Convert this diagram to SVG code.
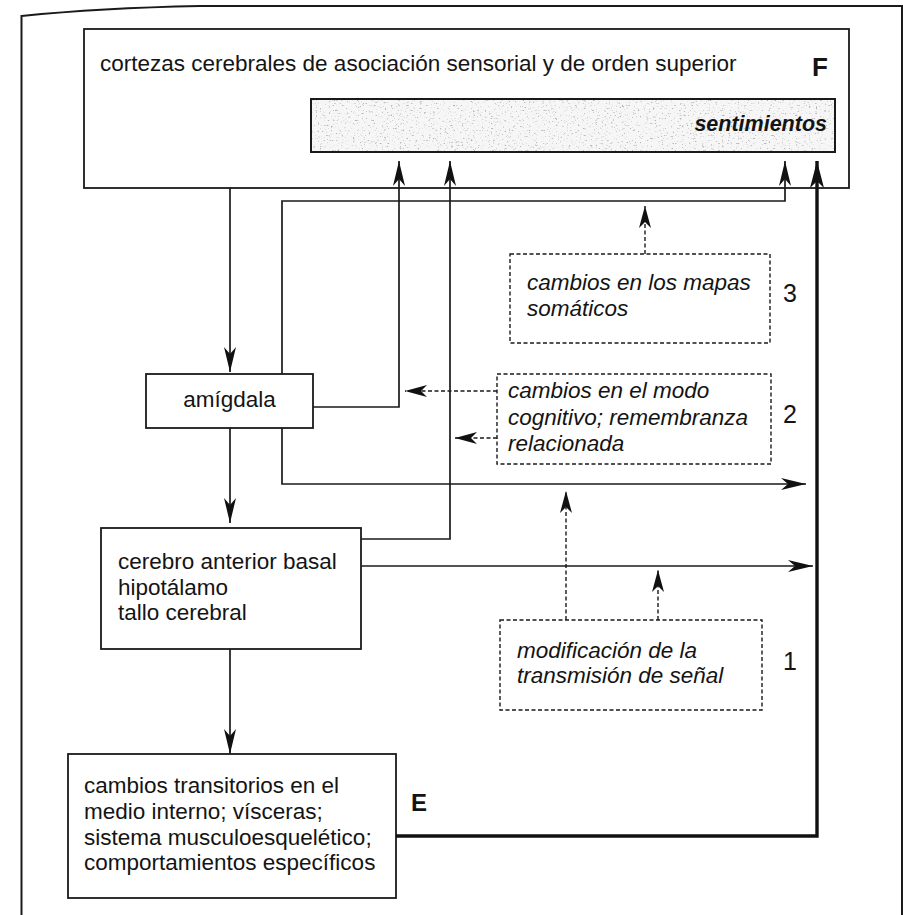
<svg xmlns="http://www.w3.org/2000/svg" width="903" height="915" viewBox="0 0 903 915">
<style>
  .box { fill: #fff; stroke: #1a1a1a; stroke-width: 1.8; }
  .dbox { fill: none; stroke: #1a1a1a; stroke-width: 1.4; stroke-dasharray: 4 2.5; }
  .t { font-family: "Liberation Sans", Arial, sans-serif; font-size: 22.5px; fill: #141414; }
  .ti { font-family: "Liberation Sans", Arial, sans-serif; font-size: 22.5px; font-style: italic; fill: #141414; }
  .num { font-family: "Liberation Sans", Arial, sans-serif; font-size: 25px; fill: #141414; }
  .lbl { font-family: "Liberation Sans", Arial, sans-serif; font-weight: bold; fill: #141414; }
  .ln { fill: none; stroke: #1a1a1a; stroke-width: 1.7; }
  .dl { fill: none; stroke: #1a1a1a; stroke-width: 1.4; stroke-dasharray: 4 2.5; }
  .thick { fill: none; stroke: #111; stroke-width: 3.4; }
</style>
<defs>
  <marker id="ah" viewBox="-27 -7 28 14" refX="0" refY="0" markerWidth="28" markerHeight="14" markerUnits="userSpaceOnUse" orient="auto">
    <path d="M0,0 L-25,-6 L-18,0 L-25,6 Z" fill="#111"/>
  </marker>
  <marker id="ahd" viewBox="-25 -7 26 14" refX="0" refY="0" markerWidth="26" markerHeight="14" markerUnits="userSpaceOnUse" orient="auto">
    <path d="M0,0 L-22,-6 L-16,0 L-22,6 Z" fill="#111"/>
  </marker>
  <marker id="ahk" viewBox="-28 -8 29 16" refX="0" refY="0" markerWidth="29" markerHeight="16" markerUnits="userSpaceOnUse" orient="auto">
    <path d="M0,0 L-27,-7 L-20,0 L-27,7 Z" fill="#111"/>
  </marker>
  <filter id="speckle" x="0" y="0" width="100%" height="100%">
    <feTurbulence type="fractalNoise" baseFrequency="0.45 0.6" numOctaves="3" seed="11" result="n"/>
    <feColorMatrix in="n" type="matrix" values="0 0 0 0 0.45  0 0 0 0 0.45  0 0 0 0 0.45  5 0 0 0 -3.1" result="dots"/>
    <feComposite in="dots" in2="SourceGraphic" operator="in"/>
  </filter>
</defs>

<!-- outer frame -->
<path d="M21.5,915 V16 Q100,8 200,6 H902 V915" fill="none" stroke="#1a1a1a" stroke-width="2"/>

<g id="F">
  <rect class="box" x="84" y="29" width="765" height="159"/>
  <text class="t" x="100" y="71">cortezas cerebrales de asociación sensorial y de orden superior</text>
  <text class="lbl" x="812" y="76" font-size="26">F</text>
</g>

<g id="sentimientos">
  <rect x="311" y="99" width="524" height="53" fill="#f6f6f6"/>
  <rect x="311" y="99" width="524" height="53" fill="#000" filter="url(#speckle)"/>
  <rect x="311" y="99" width="524" height="53" fill="none" stroke="#1a1a1a" stroke-width="2"/>
  <text class="lbl" x="827" y="131" font-size="21.5" font-style="italic" text-anchor="end">sentimientos</text>
</g>

<g id="amigdala">
  <rect class="box" x="146" y="374" width="167" height="54"/>
  <text class="t" x="229.5" y="407" text-anchor="middle">amígdala</text>
</g>

<g id="cerebro">
  <rect class="box" x="101" y="528" width="260" height="121"/>
  <text class="t" x="118" y="569">cerebro anterior basal</text>
  <text class="t" x="118" y="595">hipotálamo</text>
  <text class="t" x="118" y="620">tallo cerebral</text>
</g>

<g id="E">
  <rect class="box" x="68" y="754" width="328" height="144"/>
  <text class="t" x="84" y="793">cambios transitorios en el</text>
  <text class="t" x="84" y="819">medio interno; vísceras;</text>
  <text class="t" x="84" y="845">sistema musculoesquelético;</text>
  <text class="t" x="84" y="870">comportamientos específicos</text>
  <text class="lbl" x="411" y="811" font-size="24">E</text>
</g>

<g id="mapas">
  <rect class="dbox" x="510" y="254" width="260" height="89"/>
  <text class="ti" x="527" y="290">cambios en los mapas</text>
  <text class="ti" x="527" y="316">somáticos</text>
  <text class="num" x="783" y="302">3</text>
</g>

<g id="cognitivo">
  <rect class="dbox" x="497" y="374" width="274" height="90"/>
  <text class="ti" x="508" y="398">cambios en el modo</text>
  <text class="ti" x="508" y="425">cognitivo; remembranza</text>
  <text class="ti" x="508" y="451">relacionada</text>
  <text class="num" x="783" y="423">2</text>
</g>

<g id="senal">
  <rect class="dbox" x="500" y="620" width="262" height="90"/>
  <text class="ti" x="517" y="658">modificación de la</text>
  <text class="ti" x="517" y="683">transmisión de señal</text>
  <text class="num" x="783" y="670">1</text>
</g>

<g id="connectors">
  <path class="ln" d="M230,188 V372" marker-end="url(#ah)"/>
  <path class="ln" d="M230,428 V523" marker-end="url(#ah)"/>
  <path class="ln" d="M230,649 V754" stroke-width="1.3" marker-end="url(#ah)"/>
  <path class="ln" d="M282,374 V201 H785 V161" marker-end="url(#ah)"/>
  <path class="ln" d="M313,407 H399 V161" marker-end="url(#ah)"/>
  <path class="ln" d="M282,428 V484 H806" marker-end="url(#ah)"/>
  <path class="ln" d="M361,539 H450 V161" marker-end="url(#ah)"/>
  <path class="ln" d="M361,566 H813" marker-end="url(#ah)"/>
  <path class="thick" d="M396,836 H817 V161" marker-end="url(#ahk)"/>
  <path class="dl" d="M645,254 V206" marker-end="url(#ahd)"/>
  <path class="dl" d="M497,391 H405" marker-end="url(#ahd)"/>
  <path class="dl" d="M497,438 H455" marker-end="url(#ahd)"/>
  <path class="dl" d="M566,620 V491" marker-end="url(#ahd)"/>
  <path class="dl" d="M658,620 V570" marker-end="url(#ahd)"/>
</g>
</svg>
